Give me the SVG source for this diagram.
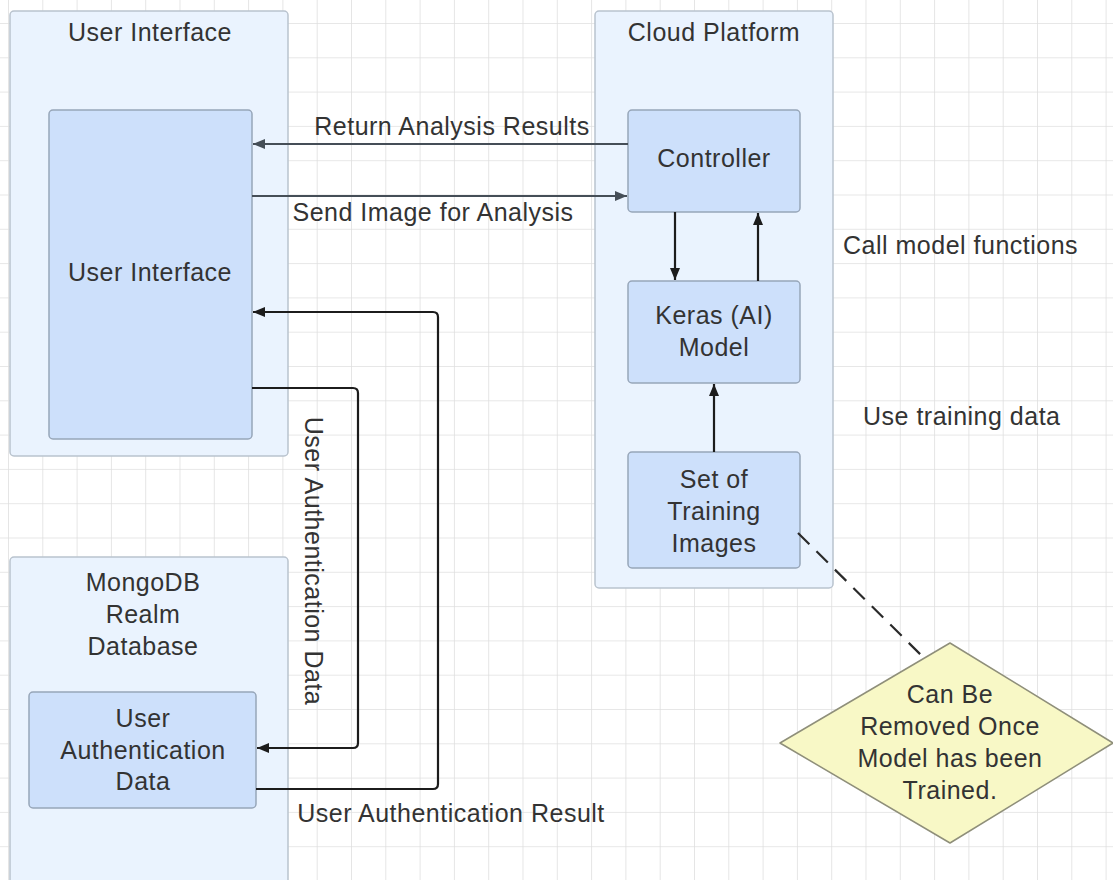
<svg xmlns="http://www.w3.org/2000/svg" width="1113" height="880" viewBox="0 0 1113 880">
  <defs>
    <pattern id="grid" x="8" y="23" width="34.3" height="34.3" patternUnits="userSpaceOnUse">
      <path d="M0,0 H34.3 M0,0 V34.3" fill="none" stroke="#dfdfdf" stroke-width="1.6"/>
    </pattern>
    <marker id="arrGray" viewBox="0 0 12 10" refX="12" refY="5" markerWidth="12" markerHeight="10" orient="auto" markerUnits="userSpaceOnUse">
      <path d="M0,0 L12,5 L0,10 z" fill="#454e57"/>
    </marker>
    <marker id="arrBlack" viewBox="0 0 12 10" refX="12" refY="5" markerWidth="12" markerHeight="10" orient="auto" markerUnits="userSpaceOnUse">
      <path d="M0,0 L12,5 L0,10 z" fill="#1c1c1c"/>
    </marker>
  </defs>
  <style>
    text { font-family: "Liberation Sans", Arial, sans-serif; font-size: 25px; fill: #333333; letter-spacing: 0.5px; }
    .c { text-anchor: middle; }
    .container { fill: #eaf3fe; stroke: #b9c3ce; stroke-width: 1.5; }
    .inner { fill: #cde0fb; stroke: #97a6b9; stroke-width: 1.5; }
    .gray { fill: none; stroke: #454e57; stroke-width: 2.2; marker-end: url(#arrGray); }
    .black { fill: none; stroke: #1c1c1c; stroke-width: 2.2; marker-end: url(#arrBlack); }
  </style>
  <rect x="0" y="0" width="1113" height="880" fill="#ffffff"/>
  <rect x="0" y="0" width="1113" height="880" fill="url(#grid)"/>

  <g id="ui-container">
    <rect class="container" x="10" y="11" width="278" height="445" rx="4"/>
    <text class="c" x="150" y="41">User Interface</text>
  </g>
  <g id="ui-box">
    <rect class="inner" x="49" y="110" width="203" height="329" rx="4"/>
    <text class="c" x="150" y="281">User Interface</text>
  </g>

  <g id="cloud-container">
    <rect class="container" x="595" y="11" width="238" height="577" rx="4"/>
    <text class="c" x="714" y="41">Cloud Platform</text>
  </g>
  <g id="controller">
    <rect class="inner" x="628" y="110" width="172" height="102" rx="4"/>
    <text class="c" x="714" y="167">Controller</text>
  </g>
  <g id="keras">
    <rect class="inner" x="628" y="281" width="172" height="102" rx="4"/>
    <text class="c" x="714" y="324">Keras (AI)</text>
    <text class="c" x="714" y="356">Model</text>
  </g>
  <g id="training">
    <rect class="inner" x="628" y="452" width="172" height="116" rx="4"/>
    <text class="c" x="714" y="488">Set of</text>
    <text class="c" x="714" y="520">Training</text>
    <text class="c" x="714" y="552">Images</text>
  </g>

  <g id="mongo-container">
    <rect class="container" x="10" y="557" width="278" height="340" rx="4"/>
    <text class="c" x="143" y="591">MongoDB</text>
    <text class="c" x="143" y="623">Realm</text>
    <text class="c" x="143" y="655">Database</text>
  </g>
  <g id="auth-data">
    <rect class="inner" x="29" y="692" width="227" height="116" rx="4"/>
    <text class="c" x="143" y="727">User</text>
    <text class="c" x="143" y="759">Authentication</text>
    <text class="c" x="143" y="790">Data</text>
  </g>

  <g id="note">
    <polygon points="950,643 1113,743 950,843 780,743" fill="#f8f8c6" stroke="#8f8f7a" stroke-width="1.5" stroke-linejoin="round"/>
    <text class="c" x="950" y="703">Can Be</text>
    <text class="c" x="950" y="735">Removed Once</text>
    <text class="c" x="950" y="767">Model has been</text>
    <text class="c" x="950" y="799">Trained.</text>
  </g>

  <g id="connectors">
    <path class="gray" d="M628,144 H253"/>
    <path class="gray" d="M252,196 H627"/>
    <path class="black" d="M675,212 V280"/>
    <path class="black" d="M758,281 V213"/>
    <path class="black" d="M714,452 V384"/>
    <path class="black" d="M252,388 H353 Q358,388 358,393 V743 Q358,748 353,748 H257"/>
    <path class="black" d="M256,789 H433 Q438,789 438,784 V317 Q438,312 433,312 H253"/>
    <path d="M798,533 L923,657" fill="none" stroke="#2a2a2a" stroke-width="2.2" stroke-dasharray="16,10"/>
    <text class="c" x="452" y="135">Return Analysis Results</text>
    <text class="c" x="433" y="221">Send Image for Analysis</text>
    <text class="c" transform="translate(305,561) rotate(90)" x="0" y="0">User Authentication Data</text>
    <text class="c" x="451" y="822">User Authentication Result</text>
    <text x="843" y="254">Call model functions</text>
    <text x="863" y="425">Use training data</text>
  </g>
</svg>
